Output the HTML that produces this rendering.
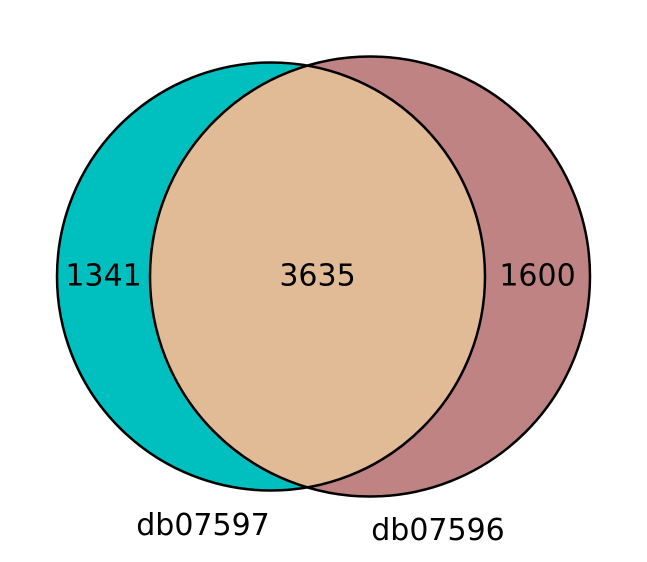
<!DOCTYPE html>
<html><head><meta charset="utf-8"><style>
html,body{margin:0;padding:0;background:#fff;}
svg text{font-family:"DejaVu Sans","Liberation Sans",sans-serif;font-size:30px;fill:#000;}
</style></head><body>
<svg width="647" height="557" viewBox="0 0 647 557">
<g id="g"></g>
</svg>
<script>
const setNames = ["db07597", "db07596"];
const regionCounts = [1341, 3635, 1600];
const circleCx = [271, 370];
const circleCy = [276.5, 276.5];
const circleR = [214, 220];
const NS = "http://www.w3.org/2000/svg";
const g = document.getElementById('g');
function mk(tag, attrs){const e=document.createElementNS(NS,tag);for(const k in attrs)e.setAttribute(k,attrs[k]);return e;}
const defs = mk('defs',{});
const cp = mk('clipPath',{id:'clipL'});
cp.appendChild(mk('circle',{cx:circleCx[0],cy:circleCy[0],r:circleR[0]}));
defs.appendChild(cp);
g.appendChild(defs);
const cL = mk('circle',{cx:circleCx[0],cy:circleCy[0],r:circleR[0],fill:'#00bfbf'});


g.appendChild(cL);
const cR = mk('circle',{cx:circleCx[1],cy:circleCy[1],r:circleR[1],fill:'#c08383'});


g.appendChild(cR);
const cI = mk('circle',{cx:circleCx[1],cy:circleCy[1],r:circleR[1],fill:'#e0bb96','clip-path':'url(#clipL)'});


g.appendChild(cI);
for(let i=0;i<2;i++){
  const o = mk('circle',{cx:circleCx[i],cy:circleCy[i],r:circleR[i],fill:'none',stroke:'#000','stroke-width':2.5});
  
  
  g.appendChild(o);
}
const leftEdgeR = circleCx[1]-circleR[1];
const rightEdgeL = circleCx[0]+circleR[0];
const xs = [
  (circleCx[0]-circleR[0]+leftEdgeR)/2,
  (leftEdgeR+rightEdgeL)/2,
  (rightEdgeL+circleCx[1]+circleR[1])/2
];
const names=['count-only-a','count-both','count-only-b'];
for(let i=0;i<3;i++){
  const t = mk('text',{x:xs[i],y:circleCy[0]+9,'text-anchor':'middle'});
  t.textContent = regionCounts[i];
  
  
  g.appendChild(t);
}
const lx=[203,438], ly=[535,540];
for(let i=0;i<2;i++){
  const t = mk('text',{x:lx[i],y:ly[i],'text-anchor':'middle'});
  t.textContent = setNames[i];
  
  
  g.appendChild(t);
}
</script>
</body></html>
